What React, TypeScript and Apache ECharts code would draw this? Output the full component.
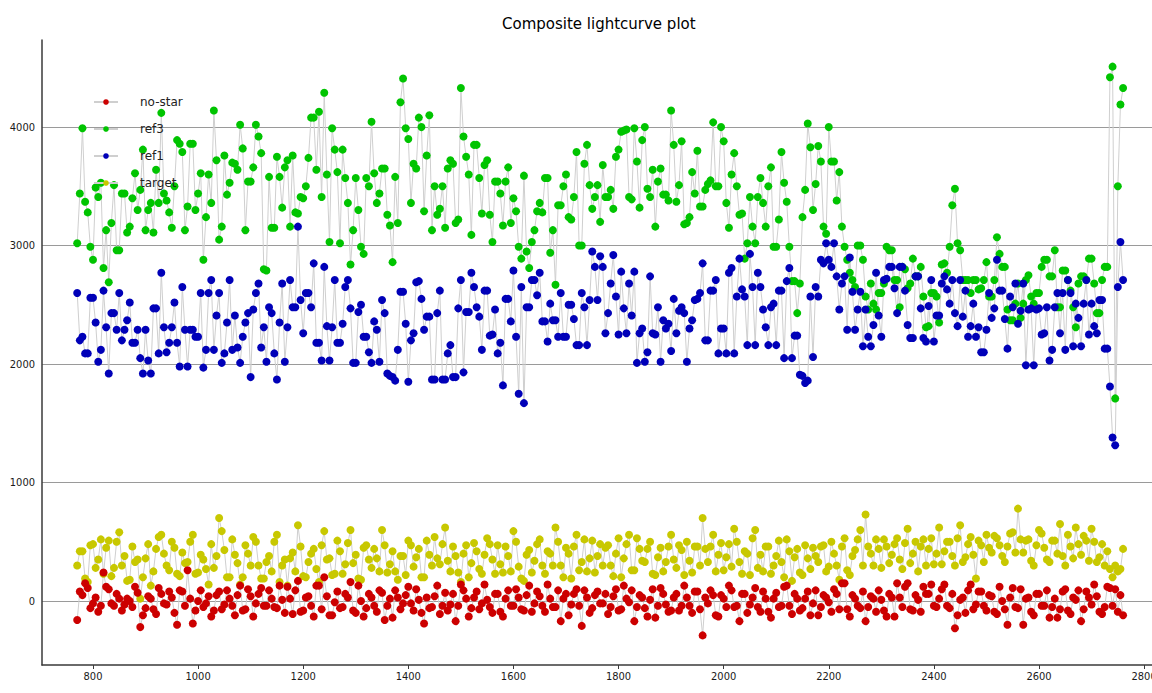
import React, { useEffect, useRef } from "react";
import * as echarts from "echarts";

// Main sampling grid (every 10) plus the extra points at the end of the run
const xValues = [
  770, 780, 790, 800, 810, 820, 830, 840, 850, 860,
  870, 880, 890, 900, 910, 920, 930, 940, 950, 960,
  970, 980, 990, 1000, 1010, 1020, 1030, 1040, 1050, 1060,
  1070, 1080, 1090, 1100, 1110, 1120, 1130, 1140, 1150, 1160,
  1170, 1180, 1190, 1200, 1210, 1220, 1230, 1240, 1250, 1260,
  1270, 1280, 1290, 1300, 1310, 1320, 1330, 1340, 1350, 1360,
  1370, 1380, 1390, 1400, 1410, 1420, 1430, 1440, 1450, 1460,
  1470, 1480, 1490, 1500, 1510, 1520, 1530, 1540, 1550, 1560,
  1570, 1580, 1590, 1600, 1610, 1620, 1630, 1640, 1650, 1660,
  1670, 1680, 1690, 1700, 1710, 1720, 1730, 1740, 1750, 1760,
  1770, 1780, 1790, 1800, 1810, 1820, 1830, 1840, 1850, 1860,
  1870, 1880, 1890, 1900, 1910, 1920, 1930, 1940, 1950, 1960,
  1970, 1980, 1990, 2000, 2010, 2020, 2030, 2040, 2050, 2060,
  2070, 2080, 2090, 2100, 2110, 2120, 2130, 2140, 2150, 2160,
  2170, 2180, 2190, 2200, 2210, 2220, 2230, 2240, 2250, 2260,
  2270, 2280, 2290, 2300, 2310, 2320, 2330, 2340, 2350, 2360,
  2370, 2380, 2390, 2400, 2410, 2420, 2430, 2440, 2450, 2460,
  2470, 2480, 2490, 2500, 2510, 2520, 2530, 2540, 2550, 2560,
  2570, 2580, 2590, 2600, 2610, 2620, 2630, 2640, 2650, 2660,
  2670, 2680, 2690, 2700, 2710, 2720, 2730,
  2735, 2740, 2745, 2750, 2755, 2760,
];

// In-between sampling (offset by 5)
const xValuesB = [
  775, 785, 795, 805, 815, 825, 835, 845, 855, 865,
  875, 885, 895, 905, 915, 925, 935, 945, 955, 965,
  975, 985, 995, 1005, 1015, 1025, 1035, 1045, 1055, 1065,
  1075, 1085, 1095, 1105, 1115, 1125, 1135, 1145, 1155, 1165,
  1175, 1185, 1195, 1205, 1215, 1225, 1235, 1245, 1255, 1265,
  1275, 1285, 1295, 1305, 1315, 1325, 1335, 1345, 1355, 1365,
  1375, 1385, 1395, 1405, 1415, 1425, 1435, 1445, 1455, 1465,
  1475, 1485, 1495, 1505, 1515, 1525, 1535, 1545, 1555, 1565,
  1575, 1585, 1595, 1605, 1615, 1625, 1635, 1645, 1655, 1665,
  1675, 1685, 1695, 1705, 1715, 1725, 1735, 1745, 1755, 1765,
  1775, 1785, 1795, 1805, 1815, 1825, 1835, 1845, 1855, 1865,
  1875, 1885, 1895, 1905, 1915, 1925, 1935, 1945, 1955, 1965,
  1975, 1985, 1995, 2005, 2015, 2025, 2035, 2045, 2055, 2065,
  2075, 2085, 2095, 2105, 2115, 2125, 2135, 2145, 2155, 2165,
  2175, 2185, 2195, 2205, 2215, 2225, 2235, 2245, 2255, 2265,
  2275, 2285, 2295, 2305, 2315, 2325, 2335, 2345, 2355, 2365,
  2375, 2385, 2395, 2405, 2415, 2425, 2435, 2445, 2455, 2465,
  2475, 2485, 2495, 2505, 2515, 2525, 2535, 2545, 2555, 2565,
  2575, 2585, 2595, 2605, 2615, 2625, 2635, 2645, 2655, 2665,
  2675, 2685, 2695, 2705, 2715, 2725,
];

const ref3Values = [
  3020, 3990, 3280, 2880, 3410, 2810, 2690, 3510, 2960, 3440,
  3160, 3610, 3470, 3130, 3360, 3640, 4120, 3380, 3150, 3890,
  3790, 3330, 3860, 3440, 2880, 3600, 4140, 3050, 3760, 3530,
  3690, 4020, 3130, 3540, 4020, 3780, 2790, 3150, 3750, 3320,
  3720, 3760, 3270, 3400, 3740, 4080, 4130, 4290, 3030, 3810,
  3020, 3570, 2840, 3570, 2990, 3570, 4045, 3360, 3650, 3260,
  2860, 3190, 4410, 3900, 3690, 4080, 3290, 4100, 3500, 3310,
  3150, 3720, 3190, 4330, 3750, 3090, 3850, 3270, 3720, 3030,
  3540, 3170, 3660, 3400, 2990, 3590, 2810, 3130, 3360, 3570,
  2940, 2670, 3340, 3600, 3220, 3790, 3000, 3850, 3310, 3510,
  3680, 3410, 3310, 3810, 3970, 3410, 3990, 3320, 4000, 3410,
  3160, 3650, 3430, 4140, 3370, 3880, 3190, 3620, 3800, 3330,
  3520, 4040, 3500, 3880, 3150, 3780, 3260, 2890, 3410, 3020,
  3570, 3160, 3660, 2990, 3790, 3370, 2700, 2430, 3240, 4030,
  3300, 3840, 3160, 4000, 3710, 3620, 2990, 2770, 2650, 3000,
  2570, 2680, 2460, 2600, 2990, 2960, 2710, 2820, 2640, 2890,
  2740, 2570, 2320, 2600, 2350, 2850, 2990, 3480, 2960, 2710,
  2600, 2710, 2640, 2860, 2570, 3070, 2820, 2460, 2370, 2680,
  2510, 2750, 2510, 2600, 2880, 2740, 2960, 2480, 2790, 2620,
  2310, 2740, 2710, 2890, 2430, 2710, 2820,
  4420, 4510, 1710, 3500, 4190, 4330,
];
const ref3ValuesB = [
  3440, 3370, 2990, 3490, 3530, 3130, 3190, 2960, 3440, 3110,
  3400, 3300, 3810, 3300, 3110, 3360, 3440, 3280, 3500, 3860,
  3130, 3860, 3300, 3610, 3240, 3360, 3720, 3160, 3430, 3700,
  3640, 3820, 3540, 3660, 3920, 2800, 3580, 3150, 3580, 3660,
  3160, 3280, 3410, 3500, 4080, 3640, 3410, 3600, 3990, 3620,
  3810, 3360, 3130, 3300, 2930, 3500, 3610, 3440, 3650, 3170,
  3580, 4210, 3990, 3360, 3650, 4000, 3760, 3130, 3260, 3500,
  3650, 3690, 3220, 3920, 3600, 3850, 3570, 3680, 3260, 3540,
  3440, 3540, 3190, 3290, 2890, 2950, 3030, 3290, 3280, 3570,
  3130, 3340, 3500, 3240, 3410, 3000, 3690, 3510, 3410, 3200,
  3410, 3470, 3750, 3960, 3980, 3390, 3710, 3890, 3480, 3640,
  3540, 3430, 3380, 3850, 3510, 3180, 3240, 3440, 3330, 3470,
  3550, 3500, 4000, 3360, 3600, 3500, 3270, 3020, 3160, 3410,
  3360, 3500, 2990, 3220, 3530, 2990, 2700, 2680, 3470, 3830,
  3520, 3710, 3100, 3710, 3380, 3160, 2880, 2710, 3000, 2880,
  2460, 2510, 2600, 2680, 2960, 2710, 2480, 2800, 2680, 2740,
  2820, 2310, 2600, 2570, 2840, 2770, 3340, 3020, 2710, 2710,
  2710, 2630, 2710, 2570, 2710, 2930, 2820, 2370, 2510, 2390,
  2710, 2570, 2600, 2820, 2880, 2740, 2480, 2790, 2710, 2480,
  2680, 2740, 2890, 2680, 2430, 2820,
];

const ref1Values = [
  2600, 2230, 2090, 2560, 2020, 2620, 1920, 2430, 2600, 2290,
  2520, 2180, 2050, 2290, 1920, 2470, 2770, 2100, 2310, 2180,
  2650, 1980, 2290, 2230, 1970, 2600, 2120, 2600, 2090, 2710,
  2410, 2010, 2350, 1890, 2600, 2140, 2020, 2430, 1870, 2680,
  2310, 2480, 3160, 2260, 2600, 2850, 2180, 2820, 2030, 2710,
  2180, 2650, 2470, 2010, 2500, 2230, 2010, 2290, 2540, 1920,
  1890, 2120, 2610, 1850, 2260, 2700, 2290, 2400, 1870, 2620,
  1870, 2160, 1890, 2710, 2440, 2770, 2480, 2120, 2620, 2250,
  2090, 1820, 2550, 2790, 1750, 1670, 2480, 2710, 2770, 2360,
  2510, 2370, 2600, 2230, 2500, 2160, 2600, 2160, 2950, 2540,
  2820, 2430, 2920, 2250, 2470, 2680, 2780, 2260, 2020, 2740,
  2250, 2020, 2300, 2110, 2260, 2480, 2020, 2370, 2550, 2850,
  2200, 2620, 2090, 2300, 2770, 2090, 2890, 2570, 2930, 2160,
  2650, 2310, 2480, 2160, 2620, 2700, 2050, 2240, 1900, 1860,
  2060, 2570, 2850, 2880, 3020, 2460, 2740, 2900, 2290, 2610,
  2460, 2150, 2770, 2230, 2720, 2820, 2430, 2820, 2330, 2220,
  2740, 2220, 2490, 2190, 2410, 2740, 2510, 2430, 2710, 2620,
  2320, 2230, 2100, 2290, 2390, 2880, 2620, 2130, 2480, 2340,
  2680, 2460, 1990, 2470, 2260, 2030, 2480, 2260, 2120, 2600,
  2510, 2150, 2710, 2510, 2260, 2540, 2130,
  1810, 1380, 1315, 2650, 3030, 2710,
];
const ref1ValuesB = [
  2200, 2090, 2560, 2350, 2120, 2310, 2430, 2290, 2200, 2370,
  2180, 2290, 1920, 2030, 2470, 2090, 2310, 2180, 2520, 1980,
  2290, 2290, 2230, 2600, 2120, 2710, 2410, 2010, 2350, 2120,
  2140, 2230, 2430, 2460, 2680, 2310, 2480, 2090, 2350, 2020,
  2710, 2480, 2540, 2600, 2480, 2180, 2030, 2320, 2310, 2180,
  2340, 2710, 2010, 2440, 2230, 2100, 2360, 2020, 2430, 1900,
  1860, 2610, 2340, 2200, 2690, 2550, 2400, 1870, 2430, 1870,
  2090, 1890, 2470, 1930, 2440, 2650, 2400, 2620, 2240, 2460,
  2180, 2550, 2360, 2230, 2650, 2480, 2710, 2580, 2360, 2190,
  2370, 2230, 2230, 2500, 2380, 2160, 2480, 2540, 2820, 2910,
  2260, 2680, 2570, 2780, 2260, 2410, 2010, 2300, 2100, 2260,
  2480, 2370, 2340, 2550, 2450, 2430, 2300, 2540, 2600, 2200,
  2620, 2710, 2300, 2090, 2810, 2570, 2630, 2160, 2650, 2770,
  2460, 2160, 2510, 2620, 2050, 2810, 2240, 1910, 1840, 2570,
  2650, 2880, 3020, 2820, 2740, 2680, 2290, 2610, 2460, 2150,
  2230, 2330, 2410, 2710, 2820, 2640, 2820, 2620, 2220, 2740,
  2470, 2190, 2710, 2410, 2680, 2630, 2710, 2320, 2400, 2230,
  2510, 2310, 2100, 2600, 2470, 2620, 2380, 2570, 2680, 2450,
  1990, 2470, 2460, 2250, 2480, 2120, 2600, 2600, 2710, 2150,
  2390, 2510, 2250, 2320, 2540, 2130,
];

const noStarValues = [
  -160, 50, 110, -20, -90, 240, 100, -40, 20, -30,
  0, 120, -220, -60, 20, -110, 60, -30, 30, -200,
  80, 260, -190, 0, -50, 40, -80, 80, -30, 20,
  -120, 130, -70, 40, -20, 110, -40, 20, -60, 10,
  120, -110, 170, -80, 40, -130, 130, 200, -120, -10,
  -60, 60, 160, -100, 0, -60, 30, -90, 70, -40,
  -140, 30, -20, 120, -80, 10, -190, -60, 40, -110,
  70, -30, -170, 140, 20, -60, 80, -20, 10, -100,
  60, -130, 90, -40, 30, -80, 130, -20, 40, -90,
  20, -50, -170, 60, -30, 100, -210, 30, -60, 80,
  -20, -110, 40, -80, 130, -10, -170, 50, -60, 10,
  -140, 110, -30, -80, 60, -40, 30, -100, 80, -290,
  -20, 50, -130, 20, 130, -50, -170, 60, -30, 110,
  -90, 20, -140, 70, -40, 130, -110, 20, -60, 80,
  -20, -120, 50, -10, 100, -70, 150, -130, 20, -60,
  -170, 40, -90, 10, -130, 30, 150, -50, 150, -80,
  10, 120, 60, -40, 20, 140, -60, -230, 10, -100,
  140, -30, 80, -80, 40, -110, 0, -200, 110, -60,
  -200, 30, -120, 60, -40, -140, 20, -70, 100, -110,
  10, -170, 80, -30, 40, -110, 120,
  110, -40, 100, -90, 50, -120,
];
const noStarValuesB = [
  80, 150, -60, 30, -40, 120, -20, 60, -80, 20,
  -50, 70, -120, 40, -70, 110, -20, 80, -100, 90,
  -40, 20, -80, 90, -20, -130, 50, -70, 90, -40,
  50, -80, 100, -130, 60, -40, 90, -50, 130, -100,
  20, 90, -90, 30, -40, 130, -70, 40, -120, 80,
  -50, 30, -80, 130, -130, 60, -40, 90, -160, 20,
  90, -70, 50, -20, 100, -100, 30, -50, 130, -40,
  -80, 60, -40, 90, -130, 30, -70, 140, -50, 60,
  -90, 20, -40, 100, -70, 50, -90, 80, -40, 140,
  -50, 90, 20, -120, 60, -40, 90, -100, 50, -20,
  60, -50, 100, -70, 20, 90, -50, 30, -130, 100,
  -40, 60, -90, 30, -80, 130, -40, 80, -70, 30,
  90, -120, 50, -50, 90, -40, 60, -100, 30, -50,
  80, -90, 20, -50, 120, -40, 60, -80, 20, -120,
  90, -50, 30, -90, 60, 150, -70, 50, -40, 80,
  -50, 20, 90, -80, 60, -130, 30, 120, -70, 50,
  -90, 60, 140, -50, 100, -40, 60, -120, 30, 90,
  -70, 80, -40, 50, -90, 120, -70, 30, -50, 100,
  20, -90, 60, -40, 90, -50, -140, 80, -80, 30,
  90, -70, 30, 140, -90, -50,
];

const targetValues = [
  300, 420, 160, 480, 350, 230, 510, 280, 580, 380,
  180, 330, 20, 360, 130, 440, 560, 300, 500, 230,
  410, 330, 560, 240, 350, 140, 280, 700, 430, 200,
  390, 140, 470, 300, 500, 190, 330, 250, 560, 300,
  130, 410, 640, 210, 330, 440, 160, 590, 360, 230,
  420, 310, 600, 390, 180, 470, 280, 360, 600, 240,
  420, 180, 380, 510, 290, 440, 200, 390, 540, 310,
  620, 250, 380, 160, 470, 320, 420, 230, 530, 350,
  470, 240, 380, 590, 290, 170, 430, 340, 520, 230,
  400, 620, 300, 450, 190, 560, 330, 250, 510, 380,
  300, 470, 210, 530, 360, 560, 260, 440, 330, 500,
  220, 450, 330, 560, 280, 430, 500, 240, 460, 700,
  330, 560, 390, 260, 480, 610, 330, 420, 220, 600,
  390, 460, 230, 380, 330, 520, 170, 440, 220, 360,
  450, 330, 470, 290, 400, 180, 530, 220, 430, 600,
  730, 400, 520, 280, 460, 390, 530, 270, 610, 400,
  250, 520, 440, 310, 620, 420, 500, 300, 640, 370,
  540, 190, 470, 560, 410, 530, 380, 460, 580, 780,
  410, 520, 300, 600, 450, 330, 510, 650, 300, 460,
  620, 390, 510, 610, 330, 480, 420,
  270, 200, 300, 250, 270, 440,
];
const targetValuesB = [
  420, 190, 470, 280, 520, 450, 210, 500, 300, 170,
  460, 350, 200, 480, 250, 540, 400, 260, 450, 210,
  320, 500, 230, 390, 270, 480, 380, 590, 200, 520,
  320, 200, 400, 540, 300, 190, 380, 500, 160, 350,
  360, 250, 460, 200, 400, 270, 470, 350, 220, 510,
  230, 490, 320, 190, 450, 350, 440, 250, 470, 310,
  250, 380, 220, 470, 370, 200, 510, 300, 360, 480,
  340, 460, 240, 400, 200, 490, 270, 390, 480, 230,
  310, 460, 250, 500, 190, 390, 240, 480, 300, 420,
  300, 500, 200, 400, 460, 260, 520, 360, 240, 480,
  450, 300, 400, 200, 480, 260, 530, 340, 440, 230,
  370, 250, 460, 350, 470, 220, 340, 460, 300, 440,
  460, 250, 490, 370, 290, 500, 230, 400, 530, 280,
  250, 460, 300, 510, 200, 420, 370, 240, 470, 270,
  380, 460, 250, 500, 300, 460, 260, 380, 520, 300,
  460, 300, 440, 520, 320, 480, 350, 490, 320, 500,
  460, 300, 530, 400, 310, 500, 380, 530, 330, 480,
  390, 510, 330, 450, 550, 470, 330, 570, 410, 520,
  510, 340, 470, 570, 350, 510, 400, 380, 560, 360,
  480, 550, 340, 500, 370, 300,
];

const legendNames = ["no-star", "ref3", "ref1", "target"];
const yTicks = [0, 1000, 2000, 3000, 4000];
const xTicks = [800, 1000, 1200, 1400, 1600, 1800, 2000, 2200, 2400, 2600, 2800];

export default function App() {
  const ref = useRef<HTMLDivElement>(null);

  useEffect(() => {
    if (!ref.current) return;
    const chart = echarts.init(ref.current, null, { renderer: "svg" });
    const merge = (ys: number[], ysB: number[]) => {
      const a = xValues.map((x, i) => [x, ys[i]]);
      const b = xValuesB.map((x, i) => [x, ysB[i]]);
      return a.concat(b).sort((p, q) => p[0] - q[0]);
    };
    const mk = (name: string, ys: number[], ysB: number[], color: string) => ({
      name,
      type: "line",
      data: merge(ys, ysB),
      symbol: "circle",
      symbolSize: 8,
      showSymbol: true,
      showAllSymbol: true,
      lineStyle: { color: "#cfcfcf", width: 1 },
      itemStyle: { color, borderWidth: 0 },
      emphasis: { disabled: true },
      silent: true,
    });
    const labelFont = {
      fontFamily: "'DejaVu Sans Condensed', 'DejaVu Sans', sans-serif",
      fontSize: 11,
      color: "#1a1a1a",
    };
    chart.setOption({
      animation: false,
      backgroundColor: "#ffffff",
      title: {
        text: "Composite lightcurve plot",
        left: 497,
        top: 11,
        textStyle: {
          fontFamily: "'DejaVu Sans', sans-serif",
          fontSize: 15,
          fontWeight: "normal",
          color: "#000000",
        },
      },
      legend: {
        orient: "vertical",
        left: 88,
        top: 90,
        itemWidth: 24,
        itemHeight: 7,
        itemGap: 13,
        data: legendNames,
        textStyle: {
          fontFamily: "'DejaVu Sans', sans-serif",
          fontSize: 12,
          lineHeight: 14,
          color: "#222222",
          padding: [0, 0, 0, 17],
        },
      },
      grid: {
        left: 42,
        right: 0,
        top: 40,
        bottom: 28,
        containLabel: false,
        outerBoundsMode: "none",
      },
      xAxis: {
        type: "value",
        min: 703,
        max: 2815,
        minInterval: 200,
        maxInterval: 200,
        axisLine: { onZero: false, lineStyle: { color: "#3a3a3a", width: 1.5 } },
        axisTick: { show: true, length: 4, lineStyle: { color: "#3a3a3a" } },
        splitLine: { show: false },
        axisLabel: {
          ...labelFont,
          margin: 6,
          showMinLabel: false,
          showMaxLabel: false,
          formatter: (v: number) => (xTicks.includes(v) ? String(v) : ""),
        },
      },
      yAxis: {
        type: "value",
        min: -540,
        max: 4735,
        minInterval: 1000,
        maxInterval: 1000,
        axisLine: { show: true, onZero: false, lineStyle: { color: "#3a3a3a", width: 1.5 } },
        axisTick: { show: false },
        splitLine: {
          show: true,
          showMinLine: false,
          showMaxLine: false,
          lineStyle: { color: "#9a9a9a", width: 1 },
        },
        axisLabel: {
          ...labelFont,
          margin: 7,
          showMinLabel: false,
          showMaxLabel: false,
          formatter: (v: number) => (yTicks.includes(v) ? String(v) : ""),
        },
      },
      series: [
        mk("target", targetValues, targetValuesB, "#c8c800"),
        mk("ref3", ref3Values, ref3ValuesB, "#00c400"),
        mk("ref1", ref1Values, ref1ValuesB, "#0000b8"),
        mk("no-star", noStarValues, noStarValuesB, "#cc0000"),
      ],
    });
    return () => chart.dispose();
  }, []);

  return (
    <div
      ref={ref}
      style={{ position: "fixed", left: 0, top: 0, width: 1152, height: 693, background: "#fff" }}
    />
  );
}
